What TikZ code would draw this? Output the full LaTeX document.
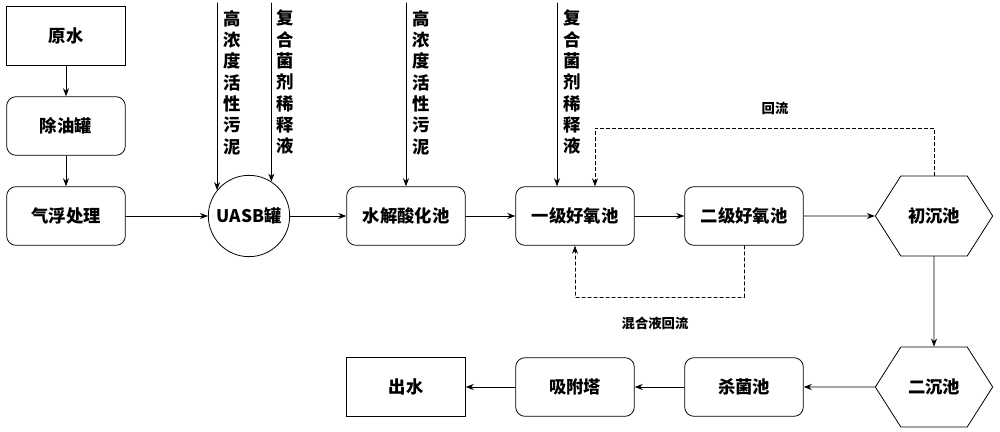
\documentclass[tikz,border=0pt]{standalone}
\usepackage{fontspec}
\newfontfamily\cjk{Noto Sans CJK SC}
\usepackage{tikz}
\usetikzlibrary{arrows.meta,shapes.symbols,positioning}

\begin{document}
\begin{tikzpicture}
[x=0.75pt,y=-0.75pt,line width=0.6pt,line cap=round,
>={Stealth[length=6pt,width=4.5pt]},
% Styles
box text/.style={font=\cjk\bfseries\fontsize{13}{15}\selectfont},
plain box/.style={box text,draw,minimum width=89pt,minimum height=44pt},
round box/.style={plain box,rounded corners=7pt},
tank/.style={box text,draw,circle,minimum size=61pt,inner sep=0pt},
settler/.style={box text,draw,signal,signal to=east and west,
  signal pointer angle=115,minimum width=88pt,minimum height=60pt},
feed text/.style={font=\cjk\bfseries\fontsize{13}{16}\selectfont,
  align=center,anchor=north west,inner sep=0pt},
note text/.style={font=\cjk\bfseries\fontsize{10}{12}\selectfont},
return line/.style={->,dash pattern=on 2.5pt off 2pt}]
\useasboundingbox (0,0) rectangle (1000,432);
% Upper row
\node[plain box] (raw) at (66,36) {原水};
\node[round box] (deoil) at (66,126) {除油罐};
\node[round box] (float) at (66,216) {气浮处理};
\node[tank] (uasb) at (249,216) {UASB罐};
\node[round box] (hydro) at (406,216) {水解酸化池};
\node[round box] (oxA) at (575,216) {一级好氧池};
\node[round box] (oxB) at (744,216) {二级好氧池};
\node[settler] (firstsed) at (934,216) {初沉池};
% Lower row
\node[settler] (secondsed) at (934,387) {二沉池};
\node[round box] (disinf) at (744,387) {杀菌池};
\node[round box] (adsorb) at (575,387) {吸附塔};
\node[plain box] (outlet) at (406,387) {出水};
% Main flow
\foreach \a/\b in {raw/deoil,deoil/float,float/uasb,uasb/hydro,hydro/oxA,
  oxA/oxB,oxB/firstsed,firstsed/secondsed,secondsed/disinf,disinf/adsorb,
  adsorb/outlet}
  \draw[->] (\a) -- (\b);
% Feeds
\coordinate (feedA) at (uasb.141 |- 0,3);
\coordinate (feedB) at (uasb.57 |- 0,3);
\coordinate (feedC) at (hydro.north |- 0,3);
\coordinate (feedD) at (557,3);
\draw[->] (feedA) -- (uasb.141);
\draw[->] (feedB) -- (uasb.57);
\draw[->] (feedC) -- (hydro.north);
\draw[->] (feedD) -- (feedD |- oxA.north);
\node[feed text] (sludgeA) at ([xshift=4.5pt,yshift=-5pt]feedA)
  {高\\浓\\度\\活\\性\\污\\泥};
\node[feed text] (agentA) at ([xshift=3.5pt,yshift=-5pt]feedB)
  {复\\合\\菌\\剂\\稀\\释\\液};
\node[feed text] (sludgeB) at ([xshift=4.5pt,yshift=-5pt]feedC)
  {高\\浓\\度\\活\\性\\污\\泥};
\node[feed text] (agentB) at ([xshift=4.5pt,yshift=-5pt]feedD)
  {复\\合\\菌\\剂\\稀\\释\\液};
% Return lines
\coordinate (backtop) at (595,128);
\coordinate (mixbot) at (575,297);
\draw[return line] (firstsed.north) |- (backtop) -- (backtop |- oxA.north);
\draw[return line] (oxB.south) |- (mixbot) -- (oxA.south);
\node[note text] (backlbl) at (775,108) {回流};
\node[note text] (mixlbl) at (655,323) {混合液回流};
\end{tikzpicture}
\end{document}
